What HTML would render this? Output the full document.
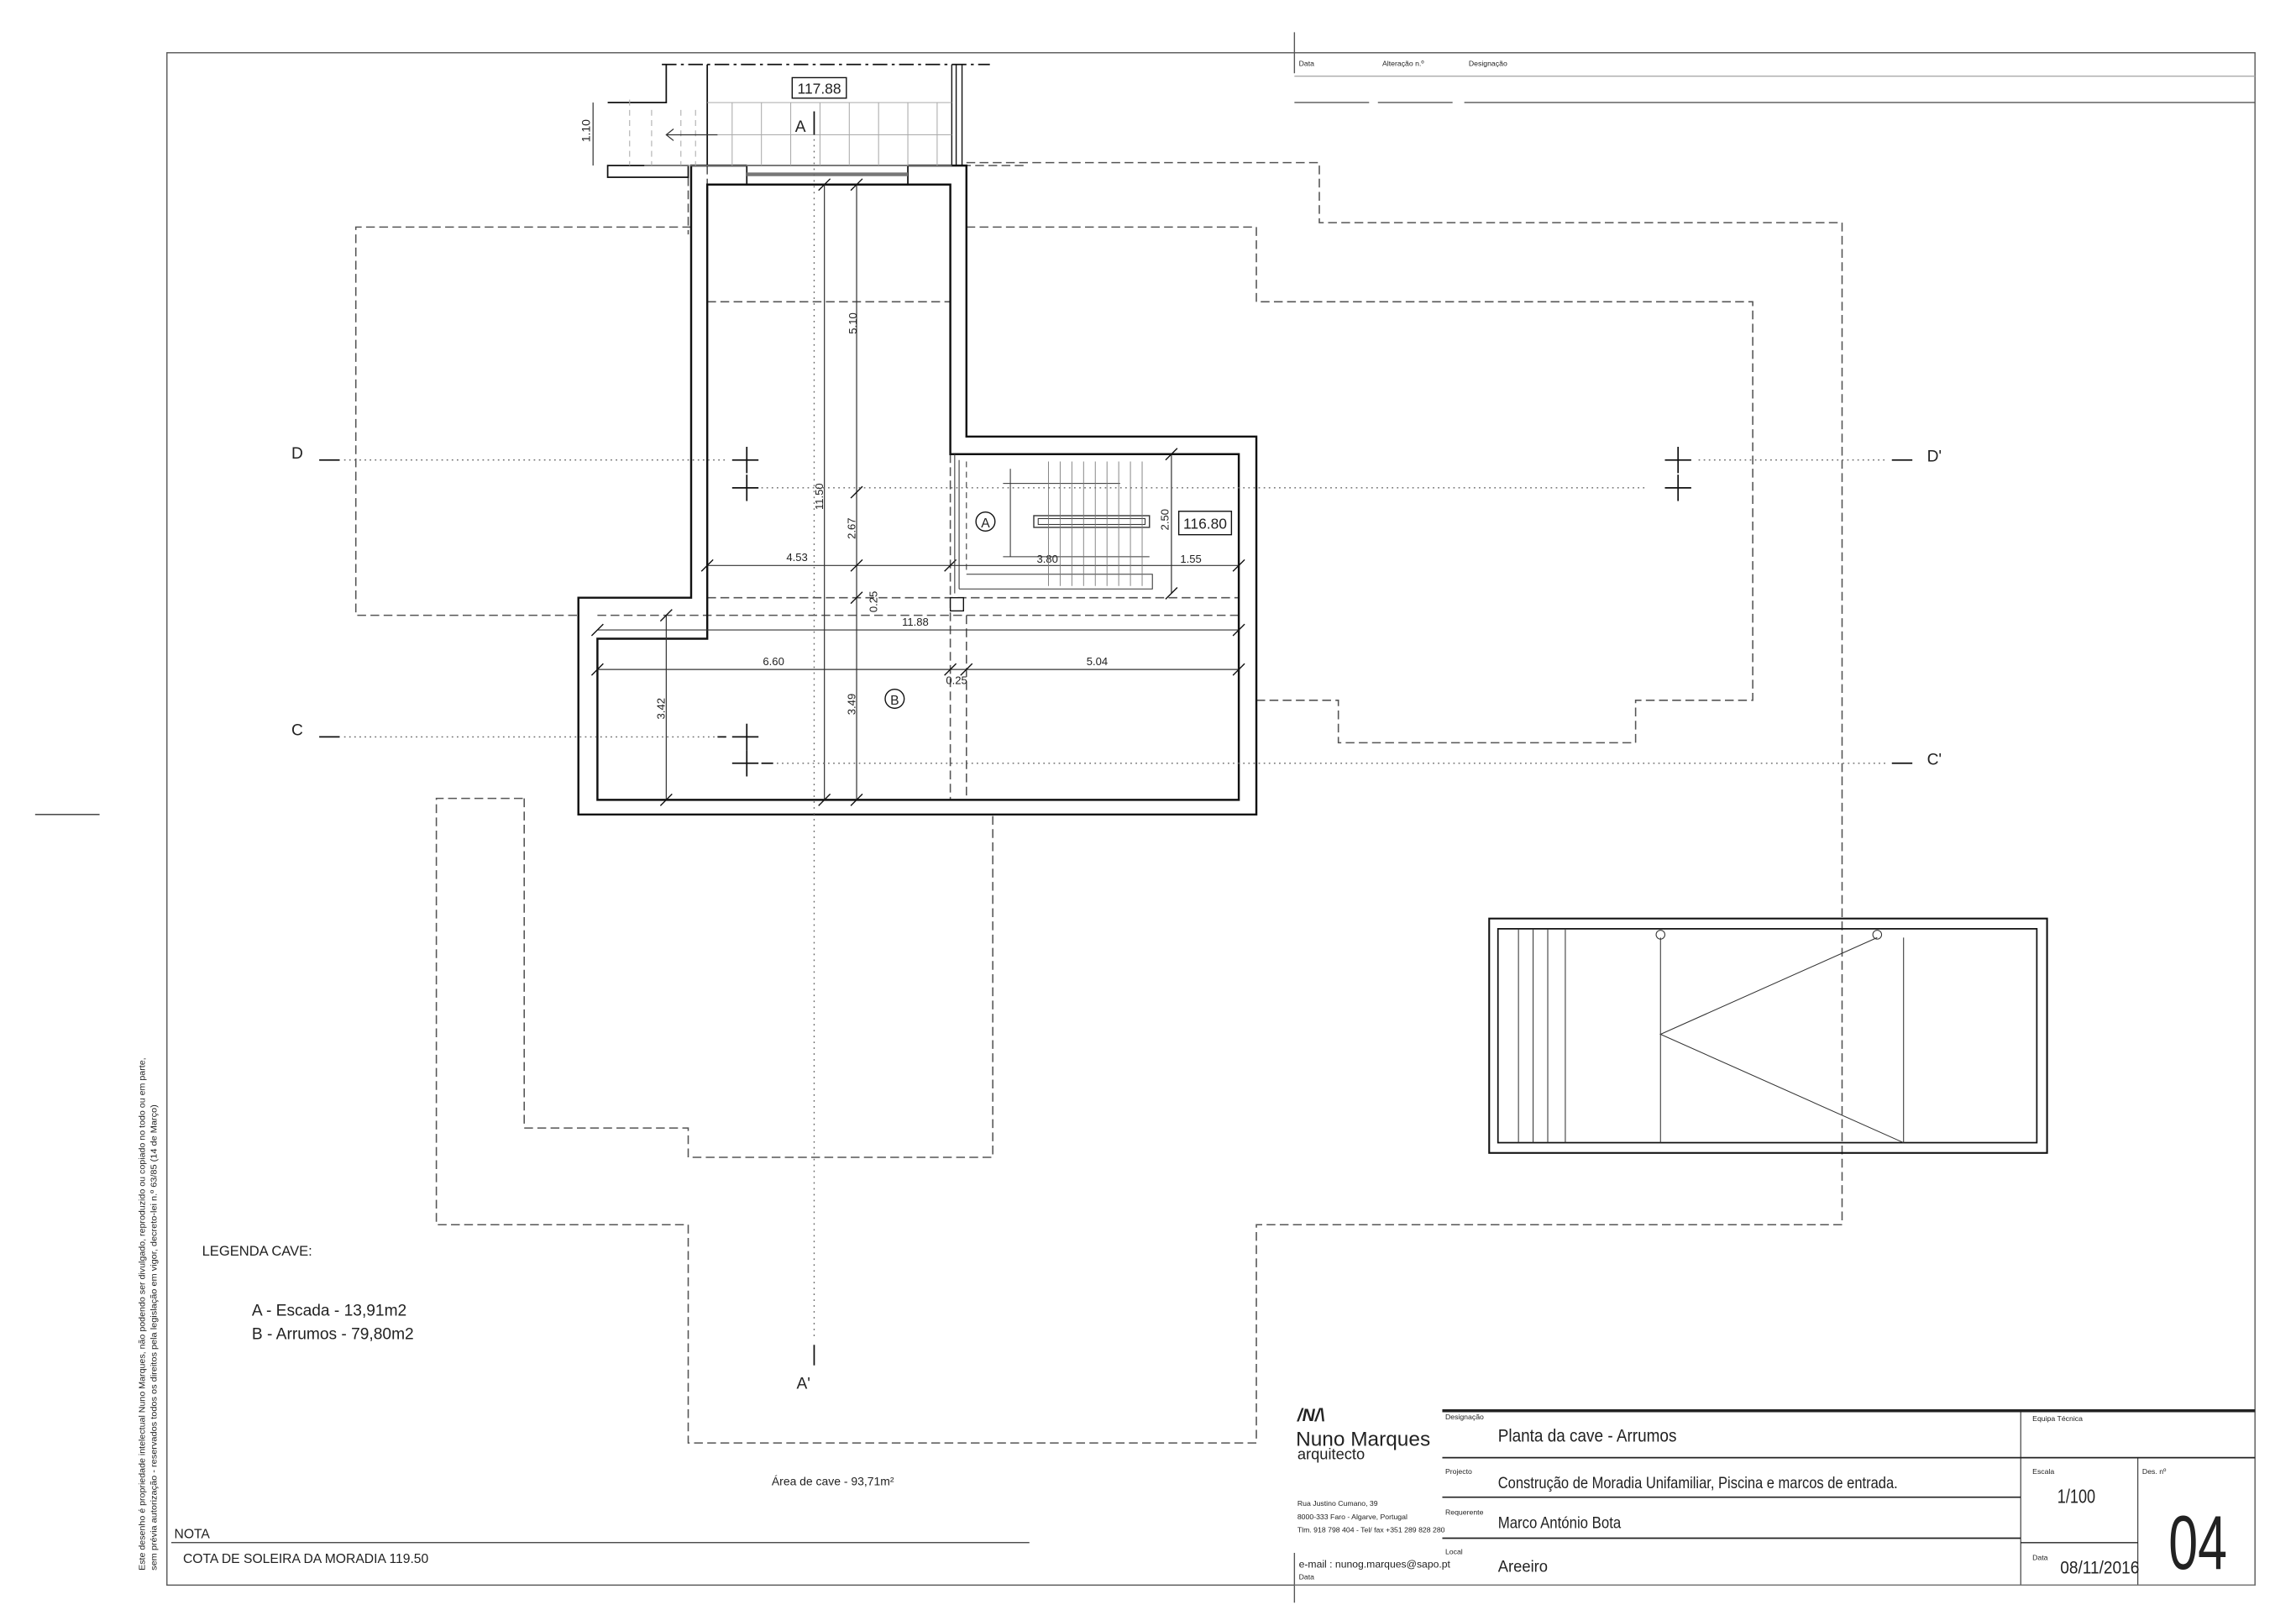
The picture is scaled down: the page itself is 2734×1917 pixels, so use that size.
<!DOCTYPE html>
<html><head><meta charset="utf-8"><style>
html,body{margin:0;padding:0;background:#fff;}
svg{display:block;}
text{font-family:"Liberation Sans",sans-serif;fill:#222;}
.cn{font-family:"Liberation Sans Narrow","Liberation Sans",sans-serif;}
</style></head><body>
<svg width="2734" height="1917" viewBox="0 0 1568 1099" preserveAspectRatio="none" xmlns="http://www.w3.org/2000/svg">
<rect width="1568" height="1099" fill="#fff"/>
<!-- frame -->
<g stroke="#555" stroke-width="0.8" fill="none">
<rect x="114" y="36" width="1426" height="1046"/>
<line x1="884" y1="22" x2="884" y2="50"/>
<line x1="884" y1="1060" x2="884" y2="1094"/>
<line x1="884" y1="52" x2="1540" y2="52" stroke="#aaa"/>
<line x1="884" y1="70" x2="935" y2="70"/>
<line x1="941" y1="70" x2="992" y2="70"/>
<line x1="1000" y1="70" x2="1540" y2="70"/>
<line x1="24" y1="556" x2="68" y2="556" stroke="#333"/>
</g>
<text x="887" y="45" font-size="5">Data</text>
<text x="944" y="45" font-size="5">Alteração n.º</text>
<text x="1003" y="45" font-size="5">Designação</text>

<!-- dashed outlines -->
<g stroke="#555" stroke-width="0.9" fill="none" stroke-dasharray="6,3">
<polyline points="472,155 243,155 243,420 395,420"/>
<polyline points="660,111 901,111 901,152 1258,152 1258,836 858,836 858,985 470,985 470,836 298,836 298,545 358,545"/>
<polyline points="660,155 858,155 858,206 1197,206 1197,478 1117,478 1117,507 914,507 914,478 858,478"/>
<polyline points="358,545 358,770 470,770 470,790 678,790 678,556"/>
<line x1="483" y1="206" x2="649" y2="206"/>
<line x1="483" y1="408" x2="846" y2="408"/>
<line x1="408" y1="420" x2="846" y2="420"/>
<line x1="649" y1="310" x2="649" y2="546"/>
<line x1="660" y1="420" x2="660" y2="546"/>
<line x1="483" y1="113" x2="483" y2="126"/>
<line x1="657" y1="113" x2="700" y2="113"/>
<line x1="470" y1="121" x2="470" y2="160"/>
</g>
<!-- walls -->
<g stroke="#111" stroke-width="1.4" fill="none">
<polyline points="510,113 472,113 472,408 395,408 395,556 858,556 858,298 660,298 660,113 620,113"/>
<polygon points="483,126 483,436 408,436 408,546 846,546 846,310 649,310 649,126"/>
<rect x="510" y="113" width="110" height="13" stroke-width="1"/>
<line x1="510" y1="119" x2="620" y2="119" stroke="#777" stroke-width="2.5"/>
<polyline points="455,44 455,70 415,70" stroke-width="1"/>
<line x1="483" y1="44" x2="483" y2="113" stroke-width="1"/>
<line x1="650" y1="44" x2="650" y2="113" stroke-width="0.8"/>
<line x1="653" y1="44" x2="653" y2="113" stroke-width="0.8"/>
<line x1="657" y1="44" x2="657" y2="113" stroke-width="0.8"/>
<rect x="415" y="113" width="55" height="8" stroke-width="1"/>
</g>
<!-- top stair grid -->
<g stroke="#aaa" stroke-width="0.6" fill="none">
<line x1="483" y1="70" x2="650" y2="70"/>
<line x1="440" y1="113" x2="650" y2="113"/>
<line x1="455" y1="92" x2="650" y2="92"/>
<line x1="500" y1="70" x2="500" y2="113"/><line x1="520" y1="70" x2="520" y2="113"/>
<line x1="540" y1="70" x2="540" y2="113"/><line x1="560" y1="70" x2="560" y2="113"/>
<line x1="580" y1="70" x2="580" y2="113"/><line x1="600" y1="70" x2="600" y2="113"/>
<line x1="620" y1="70" x2="620" y2="113"/><line x1="640" y1="70" x2="640" y2="113"/>
<line x1="465" y1="75" x2="465" y2="113" stroke-dasharray="4,3"/>
<line x1="475" y1="75" x2="475" y2="113" stroke-dasharray="4,3"/>
<line x1="430" y1="68" x2="430" y2="113" stroke-dasharray="4,3"/>
<line x1="445" y1="75" x2="445" y2="113" stroke-dasharray="4,3"/>
</g>
<line x1="455" y1="92" x2="490" y2="92" stroke="#333" stroke-width="0.7"/>
<polyline points="460,88 455,92 460,96" stroke="#333" stroke-width="0.7" fill="none"/>
<line x1="452" y1="44" x2="676" y2="44" stroke="#111" stroke-width="1" stroke-dasharray="10,3,2,3"/>
<rect x="541" y="53" width="37" height="14" fill="#fff" stroke="#111" stroke-width="0.8"/>
<text x="559.5" y="64" font-size="10" text-anchor="middle">117.88</text>
<text x="543" y="90" font-size="11">A</text>
<line x1="556" y1="76" x2="556" y2="92" stroke="#111" stroke-width="1"/>
<line x1="405" y1="70" x2="405" y2="113" stroke="#111" stroke-width="0.6"/>
<text transform="translate(403,97) rotate(-90)" font-size="8">1.10</text>

<!-- section A line -->
<line x1="556" y1="95" x2="556" y2="915" stroke="#666" stroke-width="0.8" stroke-dasharray="1,3"/>
<line x1="556" y1="918" x2="556" y2="932" stroke="#111" stroke-width="1"/>
<text x="544" y="948" font-size="11">A'</text>

<!-- dimension lines -->
<g stroke="#333" stroke-width="0.7" fill="none">
<line x1="563" y1="126" x2="563" y2="546"/>
<line x1="585" y1="126" x2="585" y2="546"/>
<line x1="455" y1="420" x2="455" y2="546"/>
<line x1="483" y1="386" x2="846" y2="386"/>
<line x1="408" y1="430" x2="846" y2="430"/>
<line x1="408" y1="457" x2="846" y2="457"/>
<line x1="800" y1="310" x2="800" y2="405"/>
</g>
<g stroke="#111" stroke-width="0.8">
<line x1="559" y1="130" x2="567" y2="122"/><line x1="559" y1="550" x2="567" y2="542"/>
<line x1="581" y1="130" x2="589" y2="122"/><line x1="581" y1="340" x2="589" y2="332"/>
<line x1="581" y1="390" x2="589" y2="382"/><line x1="581" y1="412" x2="589" y2="404"/>
<line x1="581" y1="550" x2="589" y2="542"/>
<line x1="451" y1="424" x2="459" y2="416"/><line x1="451" y1="550" x2="459" y2="542"/>
<line x1="479" y1="390" x2="487" y2="382"/><line x1="645" y1="390" x2="653" y2="382"/><line x1="842" y1="390" x2="850" y2="382"/>
<line x1="404" y1="434" x2="412" y2="426"/><line x1="842" y1="434" x2="850" y2="426"/>
<line x1="404" y1="461" x2="412" y2="453"/><line x1="645" y1="461" x2="653" y2="453"/><line x1="656" y1="461" x2="664" y2="453"/><line x1="842" y1="461" x2="850" y2="453"/>
<line x1="796" y1="314" x2="804" y2="306"/><line x1="796" y1="409" x2="804" y2="401"/>
</g>
<g font-size="7.5">
<text transform="translate(585,228) rotate(-90)">5.10</text>
<text transform="translate(562,348) rotate(-90)">11.50</text>
<text transform="translate(584,368) rotate(-90)">2.67</text>
<text transform="translate(599,418) rotate(-90)">0.25</text>
<text transform="translate(584,488) rotate(-90)">3.49</text>
<text transform="translate(454,491) rotate(-90)">3.42</text>
<text transform="translate(798,362) rotate(-90)">2.50</text>
<text x="537" y="383">4.53</text>
<text x="708" y="384">3.80</text>
<text x="806" y="384">1.55</text>
<text x="616" y="427">11.88</text>
<text x="521" y="454">6.60</text>
<text x="742" y="454">5.04</text>
<text x="646" y="467">0.25</text>
</g>
<!-- stair A -->
<g stroke="#333" stroke-width="0.6" fill="none">
<line x1="652" y1="310" x2="652" y2="405"/>
<line x1="655" y1="314" x2="655" y2="402"/>
<polyline points="655,402 787,402 787,392 660,392"/>
<line x1="660" y1="315" x2="660" y2="392" stroke-dasharray="4,3"/>
<line x1="690" y1="320" x2="690" y2="380"/>
<line x1="685" y1="380" x2="785" y2="380"/>
<line x1="685" y1="330" x2="765" y2="330"/>
<rect x="706" y="352" width="79" height="8" stroke-width="0.8"/>
<rect x="709" y="354" width="73" height="4"/>
</g>
<g stroke="#777" stroke-width="0.5">
<line x1="716" y1="315" x2="716" y2="400"/><line x1="724" y1="315" x2="724" y2="400"/>
<line x1="732" y1="315" x2="732" y2="400"/><line x1="740" y1="315" x2="740" y2="400"/>
<line x1="748" y1="315" x2="748" y2="400"/><line x1="756" y1="315" x2="756" y2="400"/>
<line x1="764" y1="315" x2="764" y2="400"/><line x1="772" y1="315" x2="772" y2="400"/>
<line x1="780" y1="315" x2="780" y2="400"/>
</g>
<circle cx="673" cy="356" r="6.5" fill="none" stroke="#111" stroke-width="0.8"/>
<text x="673" y="360" font-size="9" text-anchor="middle">A</text>
<circle cx="611" cy="477" r="6.5" fill="none" stroke="#111" stroke-width="0.8"/>
<text x="611" y="481" font-size="9" text-anchor="middle">B</text>
<rect x="805" y="349" width="36" height="16" fill="#fff" stroke="#111" stroke-width="0.8"/>
<text x="823" y="361" font-size="10" text-anchor="middle">116.80</text>
<rect x="649" y="408" width="9" height="9" fill="#fff" stroke="#111" stroke-width="0.8"/>

<!-- axis lines -->
<g stroke="#666" stroke-width="0.8" stroke-dasharray="1,2.5" fill="none">
<line x1="235" y1="314" x2="495" y2="314"/>
<line x1="520" y1="333" x2="1125" y2="333"/>
<line x1="1160" y1="314" x2="1288" y2="314"/>
<line x1="235" y1="503" x2="495" y2="503"/>
<line x1="520" y1="521" x2="1288" y2="521"/>
</g>
<g stroke="#111" stroke-width="1">
<line x1="218" y1="314" x2="232" y2="314"/><line x1="1292" y1="314" x2="1306" y2="314"/>
<line x1="218" y1="503" x2="232" y2="503"/><line x1="1292" y1="521" x2="1306" y2="521"/>
<line x1="500" y1="314" x2="518" y2="314"/><line x1="510" y1="305" x2="510" y2="323"/>
<line x1="500" y1="333" x2="518" y2="333"/><line x1="510" y1="324" x2="510" y2="342"/>
<line x1="1137" y1="314" x2="1155" y2="314"/><line x1="1146" y1="305" x2="1146" y2="323"/>
<line x1="1137" y1="333" x2="1155" y2="333"/><line x1="1146" y1="324" x2="1146" y2="342"/>
<line x1="500" y1="503" x2="518" y2="503"/><line x1="510" y1="494" x2="510" y2="512"/>
<line x1="500" y1="521" x2="518" y2="521"/><line x1="510" y1="512" x2="510" y2="530"/>
<line x1="490" y1="503" x2="496" y2="503"/><line x1="520" y1="521" x2="528" y2="521"/>
</g>
<text x="199" y="313" font-size="11">D</text>
<text x="1316" y="315" font-size="11">D'</text>
<text x="199" y="502" font-size="11">C</text>
<text x="1316" y="522" font-size="11">C'</text>

<!-- pool -->
<g stroke="#111" fill="none">
<rect x="1017" y="627" width="381" height="160" stroke-width="1.2"/>
<rect x="1023" y="634" width="368" height="146" stroke-width="1"/>
<g stroke-width="0.6" stroke="#333">
<line x1="1037" y1="634" x2="1037" y2="780"/><line x1="1047" y1="634" x2="1047" y2="780"/>
<line x1="1057" y1="634" x2="1057" y2="780"/><line x1="1069" y1="634" x2="1069" y2="780"/>
<line x1="1134" y1="640" x2="1134" y2="780"/><line x1="1300" y1="640" x2="1300" y2="780"/>
<polyline points="1282,640 1134,706 1300,780"/>
<circle cx="1134" cy="638" r="3"/><circle cx="1282" cy="638" r="3"/>
</g>
</g>

<!-- legend -->
<text x="138" y="857" font-size="9.5">LEGENDA CAVE:</text>
<text x="172" y="898" font-size="11">A - Escada  - 13,91m2</text>
<text x="172" y="914" font-size="11">B - Arrumos - 79,80m2</text>
<text x="527" y="1014" font-size="8">Área de cave - 93,71m²</text>
<text x="119" y="1050" font-size="9">NOTA</text>
<line x1="117" y1="1053" x2="703" y2="1053" stroke="#333" stroke-width="0.7"/>
<text x="125" y="1067" font-size="9">COTA DE SOLEIRA  DA MORADIA 119.50</text>
<text transform="translate(99,1072) rotate(-90)" font-size="6" textLength="350" lengthAdjust="spacingAndGlyphs">Este desenho é propriedade intelectual Nuno Marques, não podendo ser divulgado, reproduzido ou copiado no todo ou em parte,</text>
<text transform="translate(107,1072) rotate(-90)" font-size="6" textLength="318" lengthAdjust="spacingAndGlyphs">sem prévia autorização - reservados todos os direitos pela legislação em vigor, decreto-lei n.º 63/85 (14 de Março)</text>

<!-- title block -->
<g stroke="#222" fill="none">
<line x1="985" y1="963" x2="1540" y2="963" stroke-width="2"/>
<line x1="985" y1="995" x2="1540" y2="995" stroke-width="1"/>
<line x1="985" y1="1022" x2="1380" y2="1022" stroke-width="1"/>
<line x1="985" y1="1050" x2="1380" y2="1050" stroke-width="1"/>
<line x1="1380" y1="1053" x2="1460" y2="1053" stroke-width="0.8"/>
<line x1="1380" y1="963" x2="1380" y2="1082" stroke-width="0.6"/>
<line x1="1460" y1="995" x2="1460" y2="1082" stroke-width="0.6"/>
</g>
<g class="cn">
<text x="987" y="969" font-size="5">Designação</text>
<text x="1023" y="984" font-size="12" textLength="122" lengthAdjust="spacingAndGlyphs">Planta da cave - Arrumos</text>
<text x="987" y="1006" font-size="5">Projecto</text>
<text x="1023" y="1016" font-size="11" textLength="273" lengthAdjust="spacingAndGlyphs">Construção de Moradia Unifamiliar, Piscina e marcos de entrada.</text>
<text x="987" y="1034" font-size="5">Requerente</text>
<text x="1023" y="1043" font-size="11" textLength="84" lengthAdjust="spacingAndGlyphs">Marco António Bota</text>
<text x="987" y="1061" font-size="5">Local</text>
<text x="1023" y="1073" font-size="11" textLength="34" lengthAdjust="spacingAndGlyphs">Areeiro</text>
<text x="1388" y="970" font-size="5">Equipa Técnica</text>
<text x="1388" y="1006" font-size="5">Escala</text>
<text x="1405" y="1026" font-size="13" textLength="26" lengthAdjust="spacingAndGlyphs">1/100</text>
<text x="1463" y="1006" font-size="5">Des. nº</text>
<text x="1481" y="1071" font-size="52" textLength="40" lengthAdjust="spacingAndGlyphs">04</text>
<text x="1388" y="1065" font-size="5">Data</text>
<text x="1407" y="1074" font-size="12" textLength="54" lengthAdjust="spacingAndGlyphs">08/11/2016</text>
<text x="886" y="1028" font-size="5">Rua Justino Cumano, 39</text>
<text x="886" y="1037" font-size="5">8000-333 Faro - Algarve, Portugal</text>
<text x="886" y="1046" font-size="5">Tlm. 918 798 404 - Tel/ fax +351 289 828 280</text>
<text x="887" y="1070" font-size="7">e-mail : nunog.marques@sapo.pt</text>
<text x="887" y="1078" font-size="5">Data</text>
</g>
<text x="886" y="970" font-size="12" font-style="italic" font-weight="bold" fill="#444">/N/\</text>
<text x="885" y="987" font-size="14">Nuno Marques</text>
<text x="886" y="996" font-size="10.5">arquitecto</text>
<line x1="884" y1="1082" x2="1540" y2="1082" stroke="#777" stroke-width="0.8"/>
</svg>
</body></html>
